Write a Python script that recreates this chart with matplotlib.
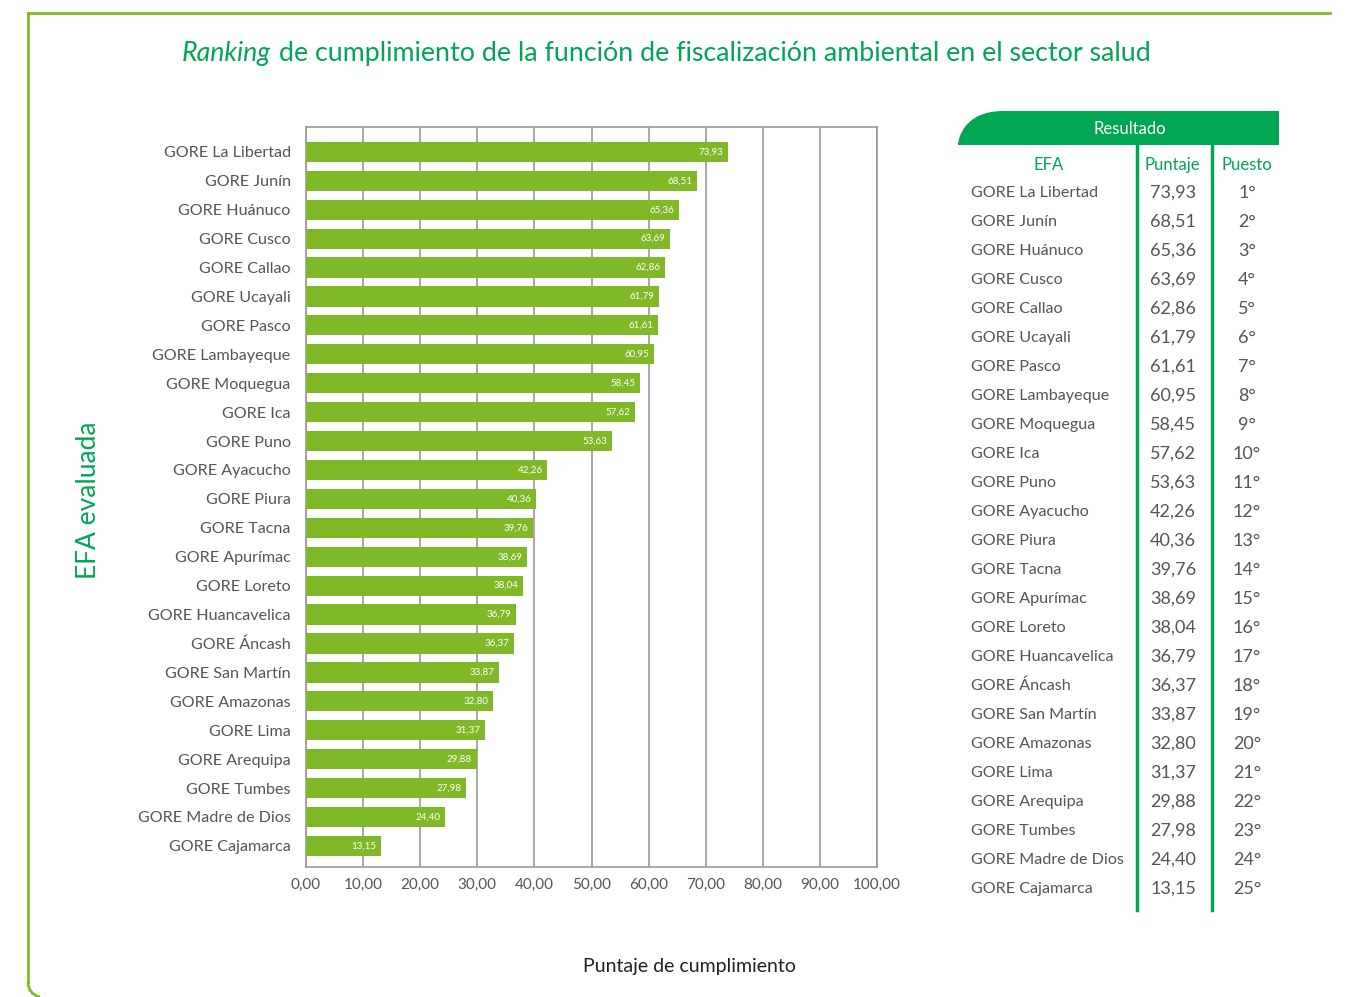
import matplotlib
matplotlib.use('Agg')
import matplotlib.pyplot as plt
from matplotlib.path import Path
from matplotlib.patches import PathPatch
from matplotlib.lines import Line2D

# data
efa = ['GORE La Libertad', 'GORE Junín', 'GORE Huánuco', 'GORE Cusco', 'GORE Callao',
       'GORE Ucayali', 'GORE Pasco', 'GORE Lambayeque', 'GORE Moquegua', 'GORE Ica',
       'GORE Puno', 'GORE Ayacucho', 'GORE Piura', 'GORE Tacna', 'GORE Apurímac',
       'GORE Loreto', 'GORE Huancavelica', 'GORE Áncash', 'GORE San Martín',
       'GORE Amazonas', 'GORE Lima', 'GORE Arequipa', 'GORE Tumbes',
       'GORE Madre de Dios', 'GORE Cajamarca']
puntaje = [73.93, 68.51, 65.36, 63.69, 62.86, 61.79, 61.61, 60.95, 58.45, 57.62,
           53.63, 42.26, 40.36, 39.76, 38.69, 38.04, 36.79, 36.37, 33.87, 32.80,
           31.37, 29.88, 27.98, 24.40, 13.15]
puesto = [f'{i}°' for i in range(1, 26)]
xticks = list(range(0, 101, 10))

BAR = '#80b927'
GREEN = '#00a651'
GRAY = '#555555'
W, H = 1358, 997

plt.rcParams['font.family'] = ['Lato', 'DejaVu Sans']

def fx(px):
    return px / W

def fy(py):
    return 1 - py / H

def fmt(v):
    return f'{v:.2f}'.replace('.', ',')

fig = plt.figure(figsize=(W / 100, H / 100), dpi=100)
fig.patch.set_facecolor('white')

# outer border
fig.add_artist(Line2D([fx(28), fx(1330)], [fy(13), fy(13)], color='#7dbb2d', lw=2))
fig.add_artist(Line2D([fx(28), fx(28)], [fy(13), fy(982)], color='#7dbb2d', lw=2))
fig.add_artist(PathPatch(Path([(fx(28), fy(982)), (fx(28), fy(994)), (fx(40), fy(997))],
                              [Path.MOVETO, Path.CURVE3, Path.CURVE3]),
                         transform=fig.transFigure, fill=False, ec='#7dbb2d', lw=2))

# title
fig.text(fx(271), fy(54), 'Ranking', style='italic', color=GREEN, fontsize=19.3,
         ha='right', va='center')
fig.text(fx(279), fy(54), 'de cumplimiento de la función de fiscalización ambiental en el sector salud',
         color=GREEN, fontsize=19.3, ha='left', va='center')

# bar chart
ax = fig.add_axes([fx(306), fy(867), fx(877 - 306), (867 - 127) / H])
y = list(range(len(efa)))
ax.barh(y, puntaje, height=0.7, color=BAR, zorder=3)
for yi, v in zip(y, puntaje):
    ax.text(v - 0.8, yi, fmt(v), color='white', fontsize=7, ha='right', va='center', zorder=4)
ax.set_xlim(0, 100)
ax.set_ylim(24 + 0.73, -0.86)
ax.set_yticks(y)
ax.set_yticklabels(efa, fontsize=11.6, color=GRAY)
ax.set_xticks(xticks)
ax.set_xticklabels([fmt(t) for t in xticks], fontsize=11, color=GRAY)
ax.tick_params(axis='y', length=0, pad=11)
ax.tick_params(axis='x', length=0, pad=8)
ax.grid(axis='x', color='#999999', lw=1.2, zorder=0)
for s in ax.spines.values():
    s.set_color('#999999')
    s.set_linewidth(1.2)

fig.text(fx(88), fy(500), 'EFA evaluada', rotation=90, color=GREEN, fontsize=19,
         ha='center', va='center')
fig.text(fx(689), fy(966), 'Puntaje de cumplimiento', color='#222222', fontsize=14,
         ha='center', va='center')

# results table
x0, x1, yt, yb = fx(958), fx(1279), fy(111), fy(145)
r = fx(45)
hdr = Path([(x0, yb), (x0, yb + (yt - yb) * 0.2), (x0 + r * 0.15, yt), (x0 + r, yt),
            (x1, yt), (x1, yb), (x0, yb)],
           [Path.MOVETO, Path.CURVE4, Path.CURVE4, Path.CURVE4,
            Path.LINETO, Path.LINETO, Path.CLOSEPOLY])
fig.add_artist(PathPatch(hdr, transform=fig.transFigure, fc=GREEN, ec='none'))
fig.text(fx(1130), fy(129), 'Resultado', color='white', fontsize=12, ha='center', va='center')
for cx in (1137, 1212):
    fig.add_artist(Line2D([fx(cx), fx(cx)], [fy(145), fy(910)], color=GREEN, lw=2.5))
fig.text(fx(1049), fy(165), 'EFA', color=GREEN, fontsize=12, ha='center', va='center')
fig.text(fx(1172), fy(165), 'Puntaje', color=GREEN, fontsize=12, ha='center', va='center')
fig.text(fx(1247), fy(165), 'Puesto', color=GREEN, fontsize=12, ha='center', va='center')
for i, (name, v, p) in enumerate(zip(efa, puntaje, puesto)):
    yy = fy(193 + i * 29)
    fig.text(fx(971), yy, name, color=GRAY, fontsize=11.6, ha='left', va='center')
    fig.text(fx(1173), yy, fmt(v), color=GRAY, fontsize=13, ha='center', va='center')
    fig.text(fx(1247), yy, p, color=GRAY, fontsize=13, ha='center', va='center')

fig.savefig('out.png', dpi=100)
